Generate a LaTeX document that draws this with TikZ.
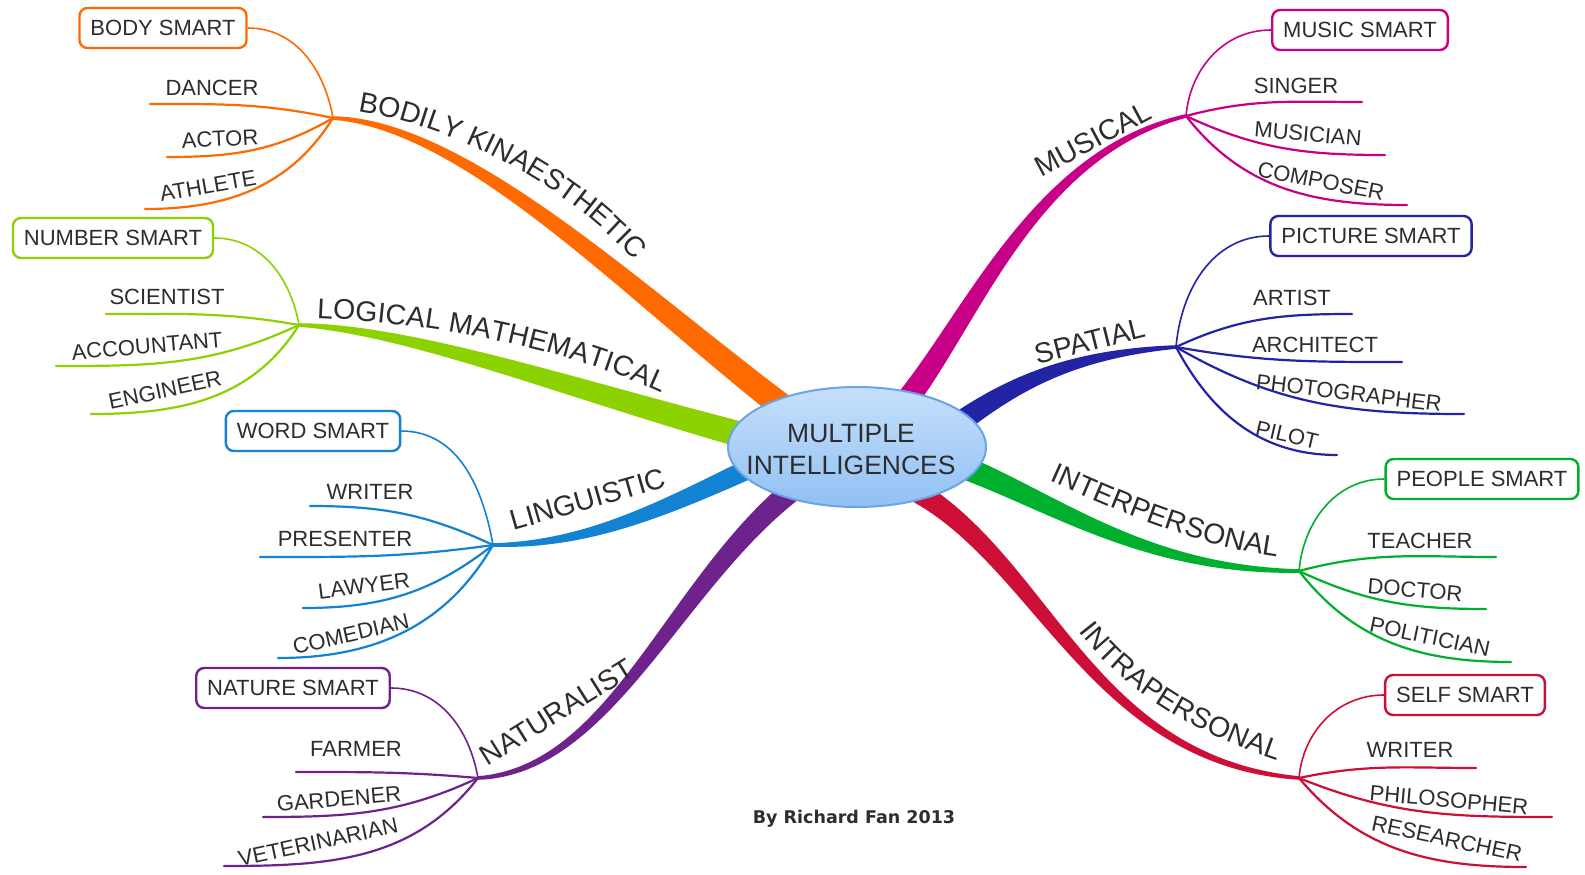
\documentclass[tikz,border=0pt]{standalone}
\usepackage{fontspec}
\setmainfont{Liberation Sans}
\newfontfamily\creditfam{DejaVu Sans}
\usetikzlibrary{calc,shapes.geometric,decorations.text}

\definecolor{cOr}{RGB}{255,106,0}
\definecolor{cLi}{RGB}{140,210,0}
\definecolor{cBl}{RGB}{20,130,210}
\definecolor{cPu}{RGB}{110,35,140}
\definecolor{cMa}{RGB}{200,0,135}
\definecolor{cSp}{RGB}{35,35,165}
\definecolor{cGr}{RGB}{0,175,45}
\definecolor{cCr}{RGB}{205,15,55}
\definecolor{txt}{RGB}{45,45,45}
\definecolor{ellA}{RGB}{198,224,251}
\definecolor{ellB}{RGB}{145,192,243}
\definecolor{ellD}{RGB}{105,163,232}

\newcommand\leaffont{\fontsize{22}{24}\selectfont}
\newcommand\labfont{\fontsize{28.5}{30}\selectfont}

% tapered branch: colour, wide end, control 1, control 2, narrow end, half width
\newcommand\mmbranch[6]{%
  \pgfmathsetmacro\mmwa{#6}%
  \pgfmathsetmacro\mmwb{0.85*#6}%
  \pgfmathsetmacro\mmwc{0.45*#6}%
  \fill[#1] ($(#2)!\mmwa pt!90:(#3)$) .. controls ($(#3)!\mmwb pt!90:(#4)$) and ($(#4)!\mmwc pt!90:(#5)$) .. ($(#5)!1.8pt!-90:(#4)$)
     -- ($(#5)!1.8pt!90:(#4)$) .. controls ($(#4)!\mmwc pt!-90:(#5)$) and ($(#3)!\mmwb pt!-90:(#4)$) .. ($(#2)!\mmwa pt!-90:(#3)$) -- cycle;
}

\tikzset{
  leaf/.style={font=\leaffont, text=txt, inner sep=0pt},
  smartbox/.style={draw=#1, line width=2.4pt, rounded corners=8pt, fill=white,
    font=\leaffont, text=txt, inner xsep=11pt, inner ysep=0pt, minimum height=40pt},
  twig/.style={draw=#1, line width=2.2pt, line cap=round},
  boxtwig/.style={draw=#1, line width=1.6pt},
  lab/.style={font=\labfont, text=txt, inner sep=0pt},
  curvelab/.style={decorate, decoration={text along path, text align=center,
    text color=txt, text={|\labfont|#1}}},
}

\begin{document}
\begin{tikzpicture}[x=1pt,y=1pt]
\fill[white] (0,0) rectangle (1585,-875);
\path[use as bounding box] (0,0) rectangle (1585,-875);

% ---------- hubs and branch ends ----------
\coordinate (hubO) at (333,-118);  \coordinate (wO) at (800,-420);
\coordinate (hubL) at (299,-325);  \coordinate (wL) at (800,-450);
\coordinate (hubB) at (493,-545);  \coordinate (wB) at (800,-445);
\coordinate (hubP) at (478,-778);  \coordinate (wP) at (820,-470);
\coordinate (hubM) at (1186,-116); \coordinate (wM) at (890,-420);
\coordinate (hubS) at (1176,-347); \coordinate (wS) at (930,-445);
\coordinate (hubI) at (1299,-571); \coordinate (wI) at (930,-455);
\coordinate (hubR) at (1299,-778); \coordinate (wR) at (890,-478);

% ---------- main branches ----------
\mmbranch{cOr}{wO}{640,-300}{470,-125}{hubO}{13}
\mmbranch{cLi}{wL}{600,-400}{420,-330}{hubL}{13.5}
\mmbranch{cBl}{wB}{680,-500}{600,-545}{hubB}{11}
\mmbranch{cPu}{wP}{680,-560}{620,-770}{hubP}{12}
\mmbranch{cMa}{wM}{965,-340}{1025,-155}{hubM}{12}
\mmbranch{cSp}{wS}{1000,-390}{1060,-355}{hubS}{12}
\mmbranch{cGr}{wI}{1040,-490}{1130,-570}{hubI}{12.5}
\mmbranch{cCr}{wR}{1040,-540}{1080,-760}{hubR}{12}

% ---------- centre ----------
\node[ellipse, draw=ellD, line width=2pt, top color=ellA, bottom color=ellB,
      minimum width=258pt, minimum height=120pt, inner sep=0pt] (mi) at (857,-447) {};
\node[align=center, font=\fontsize{26.5}{32}\selectfont, text=txt, inner sep=0pt]
      (mitext) at (851,-450) {MULTIPLE\\INTELLIGENCES};

% ---------- BODILY KINAESTHETIC ----------
\node[smartbox=cOr] (bodysmart) at (163,-28) {BODY SMART};
\node[leaf] (dancer) at (212,-88) {DANCER};
\node[leaf, rotate=3] (actor) at (220,-139) {ACTOR};
\node[leaf, rotate=10] (athlete) at (208,-186) {ATHLETE};
\coordinate (dancerL) at (150,-104);
\coordinate (actorL) at (167,-157);
\coordinate (athleteL) at (145,-209);
\draw[boxtwig=cOr] (bodysmart.east) to[out=0,in=100] (hubO);
\draw[twig=cOr] (dancerL) to[out=0,in=168] (hubO);
\draw[twig=cOr] (actorL) to[out=0,in=210] (hubO);
\draw[twig=cOr] (athleteL) to[out=0,in=238] (hubO);
\path[curvelab={BODILY KINAESTHETIC}] (319,-106) -- (349,-110) .. controls (430,-120) and (560,-172) .. (640,-268) -- (659,-291);

% ---------- LOGICAL MATHEMATICAL ----------
\node[smartbox=cLi] (numbersmart) at (113,-238) {NUMBER SMART};
\node[leaf] (scientist) at (167,-297) {SCIENTIST};
\node[leaf, rotate=5] (accountant) at (147,-346) {ACCOUNTANT};
\node[leaf, rotate=12] (engineer) at (165,-390) {ENGINEER};
\coordinate (scientistL) at (106,-314);
\coordinate (accountantL) at (56,-366);
\coordinate (engineerL) at (91,-414);
\draw[boxtwig=cLi] (numbersmart.east) to[out=0,in=100] (hubL);
\draw[twig=cLi] (scientistL) to[out=0,in=170] (hubL);
\draw[twig=cLi] (accountantL) to[out=0,in=205] (hubL);
\draw[twig=cLi] (engineerL) to[out=0,in=238] (hubL);
\path[curvelab={LOGICAL MATHEMATICAL}] (284,-317) -- (314,-318) .. controls (420,-322) and (560,-345) .. (664,-394) -- (691,-407);

% ---------- LINGUISTIC ----------
\node[smartbox=cBl] (wordsmart) at (313,-431) {WORD SMART};
\node[leaf] (writer) at (370,-492) {WRITER};
\node[leaf] (presenter) at (345,-539) {PRESENTER};
\node[leaf, rotate=7] (lawyer) at (364,-586) {LAWYER};
\node[leaf, rotate=13] (comedian) at (351,-634) {COMEDIAN};
\coordinate (writerL) at (310,-506);
\coordinate (presenterL) at (260,-557);
\coordinate (lawyerL) at (303,-608);
\coordinate (comedianL) at (278,-658);
\draw[boxtwig=cBl] (wordsmart.east) to[out=0,in=100] (hubB);
\draw[twig=cBl] (writerL) to[out=0,in=155] (hubB);
\draw[twig=cBl] (presenterL) to[out=0,in=188] (hubB);
\draw[twig=cBl] (lawyerL) to[out=0,in=218] (hubB);
\draw[twig=cBl] (comedianL) to[out=0,in=240] (hubB);
\node[lab, rotate=16] (linguistic) at (588,-499) {LINGUISTIC};

% ---------- NATURALIST ----------
\node[smartbox=cPu] (naturesmart) at (293,-688) {NATURE SMART};
\node[leaf] (farmer) at (356,-749) {FARMER};
\node[leaf, rotate=5] (gardener) at (339,-799) {GARDENER};
\node[leaf, rotate=12] (veterinarian) at (318,-842) {VETERINARIAN};
\coordinate (farmerL) at (296,-772);
\coordinate (gardenerL) at (263,-817);
\coordinate (veterinarianL) at (224,-866);
\draw[boxtwig=cPu] (naturesmart.east) to[out=0,in=100] (hubP);
\draw[twig=cPu] (farmerL) to[out=0,in=175] (hubP);
\draw[twig=cPu] (gardenerL) to[out=0,in=205] (hubP);
\draw[twig=cPu] (veterinarianL) to[out=0,in=232] (hubP);
\node[lab, rotate=32] (naturalist) at (557,-712) {NATURALIST};

% ---------- MUSICAL ----------
\node[smartbox=cMa] (musicsmart) at (1360,-30) {MUSIC SMART};
\node[leaf] (singer) at (1296,-86) {SINGER};
\node[leaf, rotate=-5] (musician) at (1308,-134) {MUSICIAN};
\node[leaf, rotate=-11] (composer) at (1321,-181) {COMPOSER};
\coordinate (singerR) at (1362,-102);
\coordinate (musicianR) at (1385,-155);
\coordinate (composerR) at (1407,-205);
\draw[boxtwig=cMa] (hubM) to[out=85,in=180] (musicsmart.west);
\draw[twig=cMa] (hubM) to[out=15,in=180] (singerR);
\draw[twig=cMa] (hubM) to[out=-25,in=180] (musicianR);
\draw[twig=cMa] (hubM) to[out=-52,in=180] (composerR);
\node[lab, rotate=28] (musical) at (1093,-139) {MUSICAL};

% ---------- SPATIAL ----------
\node[smartbox=cSp] (picturesmart) at (1371,-236) {PICTURE SMART};
\node[leaf] (artist) at (1292,-298) {ARTIST};
\node[leaf] (architect) at (1315,-345) {ARCHITECT};
\node[leaf, rotate=-7] (photographer) at (1349,-393) {PHOTOGRAPHER};
\node[leaf, rotate=-13] (pilot) at (1287,-435) {PILOT};
\coordinate (artistR) at (1352,-314);
\coordinate (architectR) at (1402,-362);
\coordinate (photographerR) at (1464,-414);
\coordinate (pilotR) at (1337,-455);
\draw[boxtwig=cSp] (hubS) to[out=85,in=180] (picturesmart.west);
\draw[twig=cSp] (hubS) to[out=25,in=180] (artistR);
\draw[twig=cSp] (hubS) to[out=-10,in=180] (architectR);
\draw[twig=cSp] (hubS) to[out=-30,in=180] (photographerR);
\draw[twig=cSp] (hubS) to[out=-62,in=180] (pilotR);
\node[lab, rotate=14] (spatial) at (1090,-341) {SPATIAL};

% ---------- INTERPERSONAL ----------
\node[smartbox=cGr] (peoplesmart) at (1482,-479) {PEOPLE SMART};
\node[leaf] (teacher) at (1420,-541) {TEACHER};
\node[leaf, rotate=-5] (doctor) at (1415,-590) {DOCTOR};
\node[leaf, rotate=-12] (politician) at (1430,-637) {POLITICIAN};
\coordinate (teacherR) at (1496,-557);
\coordinate (doctorR) at (1486,-609);
\coordinate (politicianR) at (1511,-662);
\draw[boxtwig=cGr] (hubI) to[out=85,in=180] (peoplesmart.west);
\draw[twig=cGr] (hubI) to[out=15,in=180] (teacherR);
\draw[twig=cGr] (hubI) to[out=-25,in=180] (doctorR);
\draw[twig=cGr] (hubI) to[out=-52,in=180] (politicianR);
\path[curvelab={INTERPERSONAL}] (1021,-468) -- (1048,-480) .. controls (1100,-503) and (1190,-545) .. (1278,-557) -- (1308,-561);

% ---------- INTRAPERSONAL ----------
\node[smartbox=cCr] (selfsmart) at (1465,-695) {SELF SMART};
\node[leaf] (writerb) at (1410,-750) {WRITER};
\node[leaf, rotate=-5] (philosopher) at (1449,-800) {PHILOSOPHER};
\node[leaf, rotate=-12] (researcher) at (1447,-839) {RESEARCHER};
\coordinate (writerbR) at (1476,-768);
\coordinate (philosopherR) at (1552,-817);
\coordinate (researcherR) at (1526,-867);
\draw[boxtwig=cCr] (hubR) to[out=85,in=180] (selfsmart.west);
\draw[twig=cCr] (hubR) to[out=12,in=180] (writerbR);
\draw[twig=cCr] (hubR) to[out=-22,in=180] (philosopherR);
\draw[twig=cCr] (hubR) to[out=-50,in=180] (researcherR);
\path[curvelab={INTRAPERSONAL}] (1058,-604) -- (1076,-628) .. controls (1130,-700) and (1210,-738) .. (1282,-762) -- (1310,-771);

% ---------- credit ----------
\node[font=\creditfam\bfseries\fontsize{17.5}{20}\selectfont, text=txt, inner sep=0pt] (credit) at (854,-819) {By Richard Fan 2013};
\end{tikzpicture}
\end{document}
